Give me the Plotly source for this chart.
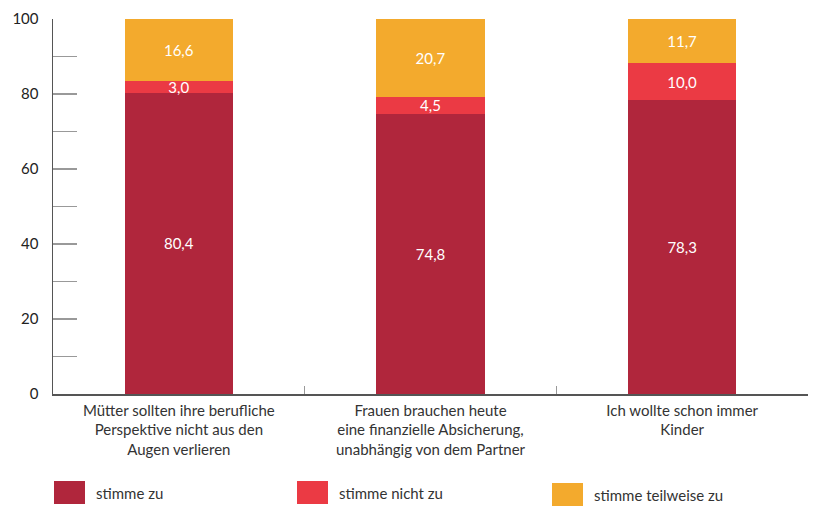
import plotly.graph_objects as go

categories = [
    "Mütter sollten ihre berufliche<br>Perspektive nicht aus den<br>Augen verlieren",
    "Frauen brauchen heute<br>eine finanzielle Absicherung,<br>unabhängig von dem Partner",
    "Ich wollte schon immer<br>Kinder",
]
stimme_zu = [80.4, 74.8, 78.3]
stimme_nicht_zu = [3.0, 4.5, 10.0]
stimme_teilweise_zu = [16.6, 20.7, 11.7]
series_names = ["stimme zu", "stimme nicht zu", "stimme teilweise zu"]
colors = ["#B0263C", "#EB3A44", "#F3AA2D"]
y_tickvals = [0, 20, 40, 60, 80, 100]

FONT = "Lato, Noto Sans, sans-serif"
W, H = 816, 507
ML, MR, MT, MB = 53, 8, 19, 113
PW, PH = W - ML - MR, H - MT - MB

fig = go.Figure()
for name, vals, col in zip(series_names, [stimme_zu, stimme_nicht_zu, stimme_teilweise_zu], colors):
    fig.add_trace(go.Bar(
        x=categories, y=vals, name=name, marker=dict(color=col, line=dict(width=0)),
        width=0.43, texttemplate="%{y:.1f}", textposition="inside", insidetextanchor="middle",
        textfont=dict(color="white", size=15, family=FONT), showlegend=False,
        constraintext="none",
    ))

def px_x(p):
    return (p - ML) / PW

def px_y(p):
    return (H - MB - p) / PH

legend_pos = [(54, 481), (297, 481), (552, 483)]
shapes = []
annotations = []
for (lx, ly), name, col in zip(legend_pos, series_names, colors):
    shapes.append(dict(type="rect", xref="paper", yref="paper",
                       x0=px_x(lx), x1=px_x(lx + 31), y0=px_y(ly + 23), y1=px_y(ly),
                       fillcolor=col, line=dict(width=0)))
    annotations.append(dict(xref="paper", yref="paper", x=px_x(lx + 40), y=px_y(ly + 12),
                            text=name, showarrow=False, xanchor="left", yanchor="middle",
                            font=dict(size=15, color="#333333", family=FONT)))

fig.update_layout(
    barmode="stack",
    width=W, height=H,
    margin=dict(l=ML, r=MR, t=MT, b=MB, pad=0, autoexpand=False),
    plot_bgcolor="white", paper_bgcolor="white",
    separators=",.",
    uniformtext=dict(mode=False),
    shapes=shapes, annotations=annotations,
    font=dict(family=FONT, color="#333333", size=15),
    xaxis=dict(
        automargin=False,
        showline=True, linecolor="#555555", linewidth=1.5,
        ticks="inside", tickson="boundaries", ticklen=8, tickcolor="#999999",
        showgrid=False, tickfont=dict(size=15, color="#333333", family=FONT),
        ticklabelstandoff=2,
        range=[-0.5, 2.5],
    ),
    yaxis=dict(
        automargin=False,
        range=[0, 100], tickvals=y_tickvals, showgrid=False, zeroline=False,
        showline=True, linecolor="#555555", linewidth=1.5,
        ticks="inside", ticklen=24, tickcolor="#999999", tickwidth=1.5,
        minor=dict(dtick=10, ticks="inside", ticklen=24, tickcolor="#999999", tickwidth=1.5, showgrid=False),
        tickfont=dict(size=15, color="#222222", family=FONT),
        ticklabelstandoff=10,
    ),
)

fig.write_html("out.html", config={"displayModeBar": False, "staticPlot": True})
with open("out.html", encoding="utf-8") as f:
    html = f.read()
html = html.replace("<head>", "<head><style>html,body{margin:0;padding:0;overflow:hidden;}</style>", 1)
with open("out.html", "w", encoding="utf-8") as f:
    f.write(html)
